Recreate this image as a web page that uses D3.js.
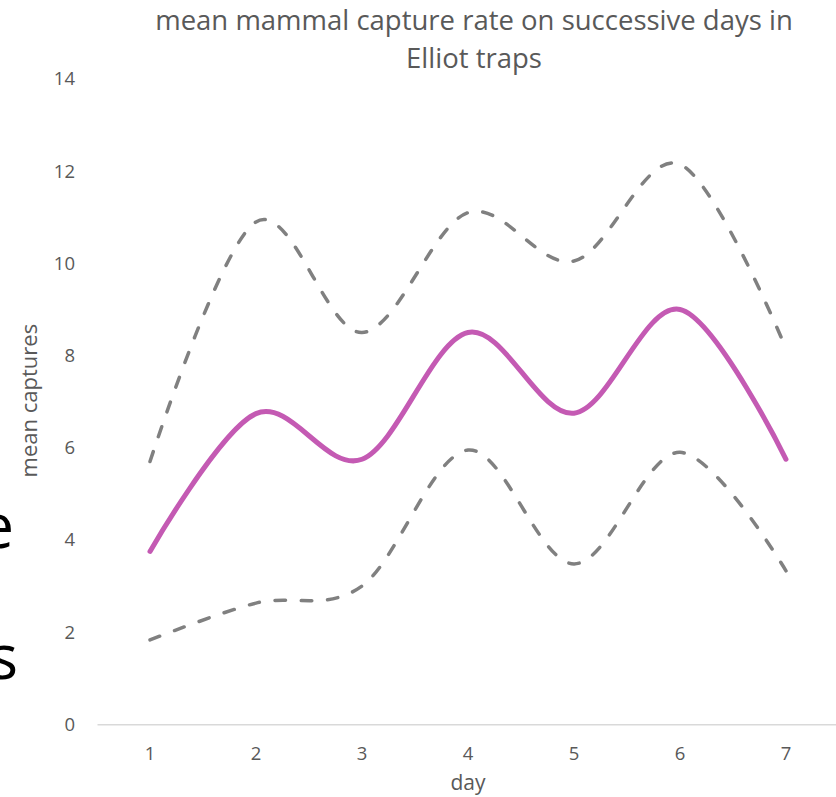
<!DOCTYPE html>
<html>
<head>
<meta charset="utf-8">
<script src="https://cdn.jsdelivr.net/npm/d3@7"></script>
<style>
  html, body { margin: 0; padding: 0; background: #fff; }
  svg { display: block; }
  text { font-family: "Open Sans", sans-serif; }
</style>
</head>
<body>
<script>
// Mean captures per day with upper/lower bounds
const days = ["1", "2", "3", "4", "5", "6", "7"];
const meanCaptures = [3.75, 6.74, 5.75, 8.5, 6.75, 9.0, 5.75];
const upperBound   = [5.7, 10.9, 8.5, 11.1, 10.05, 12.15, 8.15];
const lowerBound   = [1.83, 2.63, 3.0, 5.95, 3.48, 5.9, 3.33];
const yTicks = [0, 2, 4, 6, 8, 10, 12, 14];

const width = 836, height = 797;
const svg = d3.select("body").append("svg")
  .attr("width", width).attr("height", height);

const x = d3.scaleBand().domain(days).range([97, 839]);
const y = d3.scaleLinear().domain([0, 14]).range([724.3, 79]);
const cx = d => x(d) + x.bandwidth() / 2;

// Large slide text partially visible at the left edge
svg.append("text").attr("x", 14).attr("y", 548).attr("text-anchor", "end")
  .attr("font-size", 62).attr("fill", "#000").text("e");
svg.append("text").attr("x", 18).attr("y", 679).attr("text-anchor", "end")
  .attr("font-size", 62).attr("fill", "#000").text("s");

// Title
const title = svg.append("text").attr("text-anchor", "middle")
  .attr("fill", "#595959").attr("font-size", 27.5);
title.append("tspan").attr("x", 474).attr("y", 30).text("mean mammal capture rate on successive days in");
title.append("tspan").attr("x", 474).attr("y", 68).text("Elliot traps");

// Y axis labels (no line)
svg.append("g").selectAll("text").data(yTicks).join("text")
  .attr("x", 75).attr("y", d => y(d)).attr("dy", "0.35em")
  .attr("text-anchor", "end").attr("fill", "#595959").attr("font-size", 18.5)
  .text(d => d);

// X axis
const xAxis = svg.append("g").attr("transform", `translate(0,${y(0)})`)
  .call(d3.axisBottom(x).tickSize(0).tickPadding(23));
xAxis.select(".domain").attr("stroke", "#d9d9d9").attr("stroke-width", 1.5);
xAxis.selectAll(".tick text").attr("fill", "#595959").attr("font-size", 18.5)
  .attr("font-family", "Open Sans, sans-serif");

// Axis titles
svg.append("text").attr("x", cx("4")).attr("y", 790).attr("text-anchor", "middle")
  .attr("fill", "#595959").attr("font-size", 21).text("day");
svg.append("text").attr("transform", `translate(37,${(y(0) + y(14)) / 2 - 1}) rotate(-90)`)
  .attr("text-anchor", "middle").attr("fill", "#595959").attr("font-size", 22)
  .text("mean captures");

// Smoothed series lines
const line = d3.line()
  .x((d, i) => cx(days[i]))
  .y(d => y(d))
  .curve(d3.curveCatmullRom.alpha(0));

svg.append("path").datum(upperBound).attr("d", line)
  .attr("fill", "none").attr("stroke", "#808080").attr("stroke-width", 3.5)
  .attr("stroke-dasharray", "10.5,15.8").attr("stroke-linecap", "round");
svg.append("path").datum(lowerBound).attr("d", line)
  .attr("fill", "none").attr("stroke", "#808080").attr("stroke-width", 3.5)
  .attr("stroke-dasharray", "10.5,15.8").attr("stroke-linecap", "round");
svg.append("path").datum(meanCaptures).attr("d", line)
  .attr("fill", "none").attr("stroke", "#c45ab3").attr("stroke-width", 5)
  .attr("stroke-linecap", "round");
</script>
</body>
</html>
